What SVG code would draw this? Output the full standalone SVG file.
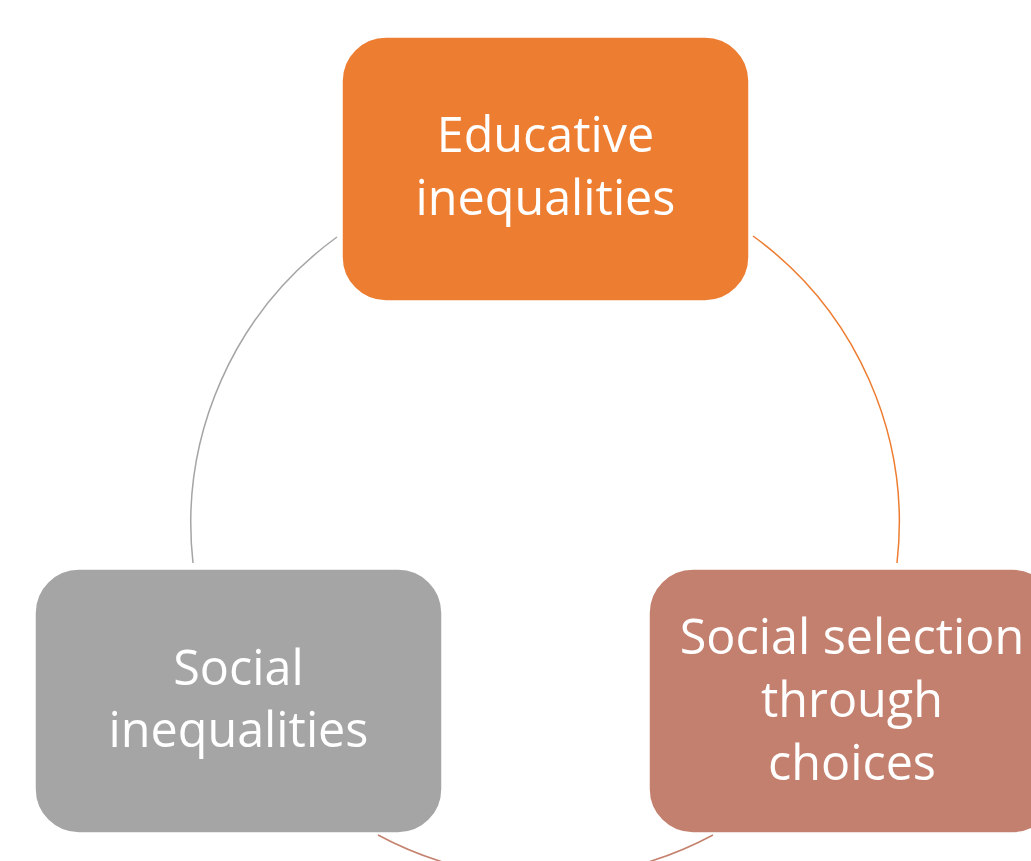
<svg xmlns="http://www.w3.org/2000/svg" width="1031" height="861" viewBox="0 0 1031 861">
<style>
.box{stroke:#ffffff;stroke-width:1.5}
.lbl{font-family:"Open Sans","Liberation Sans",sans-serif;font-size:48.5px;fill:#ffffff;text-anchor:middle}
.arc{fill:none;stroke-width:1.5}
</style>
<rect width="1031" height="861" fill="#ffffff"/>
<g id="connectors">
<path class="arc" stroke="#a5a5a5" d="M337,237 A354.5,354.5 0 0 0 193,563"/>
<path class="arc" stroke="#ed7d31" d="M753,236 A354.5,354.5 0 0 1 897,563"/>
<path class="arc" stroke="#c5826f" d="M713,835 A354.5,354.5 0 0 1 378,835"/>
</g>
<g id="node-educative">
<rect class="box" x="342" y="37" width="407" height="264" rx="44" fill="#ed7d31"/>
<text class="lbl" x="545.5" y="152">Educative</text>
<text class="lbl" x="545.5" y="215">inequalities</text>
</g>
<g id="node-social-selection">
<rect class="box" x="649" y="569" width="407" height="264" rx="44" fill="#c4806e"/>
<text class="lbl" x="852" y="654">Social selection</text>
<text class="lbl" x="852" y="717">through</text>
<text class="lbl" x="852" y="780">choices</text>
</g>
<g id="node-social">
<rect class="box" x="35" y="569" width="407" height="264" rx="44" fill="#a5a5a5"/>
<text class="lbl" x="238.5" y="685">Social</text>
<text class="lbl" x="238.5" y="747">inequalities</text>
</g>
</svg>
